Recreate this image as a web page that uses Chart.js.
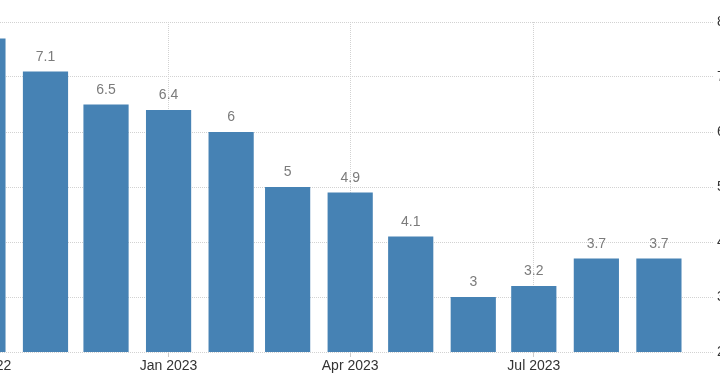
<!DOCTYPE html>
<html>
<head>
<meta charset="utf-8">
<script src="https://cdn.jsdelivr.net/npm/chart.js@4.4.0/dist/chart.umd.min.js"></script>
<style>
  html, body { margin: 0; padding: 0; background: #fff; overflow: hidden; width: 720px; height: 391px; }
  #wrap { position: absolute; left: -100px; top: 0; }
</style>
</head>
<body>
<div id="wrap"><canvas id="chart" width="854" height="391"></canvas></div>
<script>
// valeurs mensuelles
const months = ['2022-10', '2022-11', '2022-12', '2023-01', '2023-02', '2023-03',
                '2023-04', '2023-05', '2023-06', '2023-07', '2023-08', '2023-09'];
const values = [7.7, 7.1, 6.5, 6.4, 6, 5, 4.9, 4.1, 3, 3.2, 3.7, 3.7];
const yTicks = [2, 3, 4, 5, 6, 7, 8];
const monthNames = ['Jan', 'Feb', 'Mar', 'Apr', 'May', 'Jun', 'Jul', 'Aug', 'Sep', 'Oct', 'Nov', 'Dec'];

// jour (depuis 1970) du premier du mois
function dayOf(m) {
    const [y, mo] = m.split('-').map(Number);
    return Date.UTC(y, mo - 1, 1) / 86400000;
}
function labelOf(day) {
    const d = new Date(day * 86400000);
    return monthNames[d.getUTCMonth()] + ' ' + d.getUTCFullYear();
}

const points = months.map((m, i) => ({ x: dayOf(m), y: values[i] }));
const quarterTicks = months.filter(m => ['01', '04', '07', '10'].includes(m.slice(5))).map(dayOf);

const xMin = dayOf('2023-01') - 133.1;
const xMax = xMin + 403.4;

// etiquettes au-dessus des barres
const valueLabels = {
    id: 'valueLabels',
    afterDatasetsDraw(chart) {
        const ctx = chart.ctx;
        const meta = chart.getDatasetMeta(0);
        ctx.save();
        ctx.font = "14px 'Liberation Sans', Arial, sans-serif";
        ctx.fillStyle = '#7b7b7b';
        ctx.textAlign = 'center';
        ctx.textBaseline = 'alphabetic';
        meta.data.forEach((bar, i) => {
            ctx.fillText(String(values[i]), bar.x, bar.y - 11);
        });
        ctx.restore();
    }
};

Chart.defaults.font.family = "'Liberation Sans', Arial, sans-serif";

const ctx = document.getElementById('chart').getContext('2d');
const chart = new Chart(ctx, {
    type: 'bar',
    data: {
        datasets: [{
            data: points,
            backgroundColor: '#4682b4',
            borderWidth: 0,
            barPercentage: 0.8,
            categoryPercentage: 1
        }]
    },
    options: {
        responsive: false,
        animation: false,
        layout: { padding: { top: 22, left: 0, right: 0, bottom: 0 } },
        plugins: { legend: { display: false }, tooltip: { enabled: false } },
        scales: {
            x: {
                type: 'linear',
                min: xMin,
                max: xMax,
                bounds: 'data',
                offset: false,
                grid: { color: '#d2d2d2', offset: false, tickLength: 5, tickColor: '#cccccc', drawOnChartArea: true },
                border: { display: false, dash: [1, 1] },
                afterBuildTicks(scale) {
                    scale.ticks = quarterTicks.map(v => ({ value: v }));
                },
                afterFit(scale) { scale.height = 39; },
                ticks: {
                    autoSkip: false,
                    maxRotation: 0,
                    padding: 1,
                    color: '#333',
                    font: { size: 14 },
                    callback: v => labelOf(v)
                }
            },
            y: {
                position: 'right',
                min: 2,
                max: 8,
                afterBuildTicks(scale) {
                    scale.ticks = yTicks.map(v => ({ value: v }));
                },
                afterFit(scale) { scale.width = 40; },
                grid: { color: '#d2d2d2', drawTicks: false },
                border: { display: false, dash: [1, 1] },
                ticks: { padding: 3, color: '#333', font: { size: 14 } }
            }
        }
    },
    plugins: [valueLabels]
});
</script>
</body>
</html>
